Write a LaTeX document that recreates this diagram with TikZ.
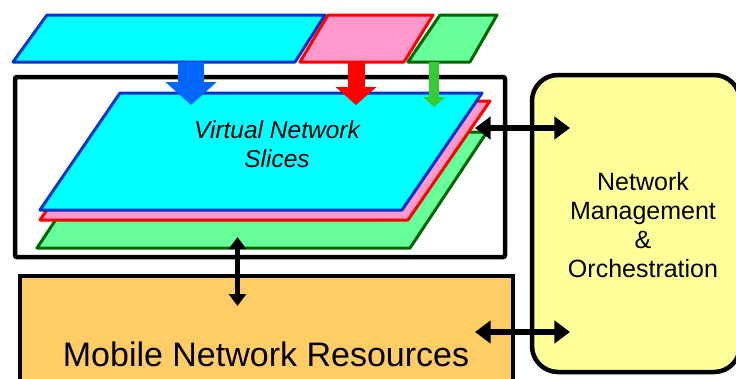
\documentclass[tikz,border=0pt]{standalone}
\usepackage{fontspec}
\setmainfont{Liberation Sans}
\usetikzlibrary{arrows.meta}

\definecolor{slicecyan}{HTML}{00FFFF}
\definecolor{sliceblue}{HTML}{0033CC}
\definecolor{slicepink}{HTML}{FF99CC}
\definecolor{slicered}{HTML}{FF0000}
\definecolor{slicegreen}{HTML}{66FF99}
\definecolor{slicedkgreen}{HTML}{006600}
\definecolor{arrowblue}{HTML}{0066FF}
\definecolor{arrowgreen}{HTML}{33CC33}
\definecolor{mgmtyellow}{HTML}{FFFF99}
\definecolor{resorange}{HTML}{FFCC66}

\tikzset{
  slicecy/.style={fill=slicecyan, draw=sliceblue, line width=3pt, line join=round},
  slicepk/.style={fill=slicepink, draw=slicered, line width=3pt, line join=round},
  slicegr/.style={fill=slicegreen, draw=slicedkgreen, line width=3pt, line join=round},
  boxline/.style={draw=black, line width=4.5pt},
  bidir/.style={line width=#1, {Triangle[width=3.4*#1, length=2.4*#1]}-{Triangle[width=3.4*#1, length=2.4*#1]}},
  mapblue/.style={draw=arrowblue, line width=26pt, -{Triangle[width=50pt, length=23pt]}},
  mapred/.style={draw=slicered, line width=17pt, -{Triangle[width=40pt, length=18pt]}},
  mapgreen/.style={draw=arrowgreen, line width=10pt, -{Triangle[width=22pt, length=10pt]}},
}

\begin{document}
\begin{tikzpicture}[x=1pt, y=-1pt]
  \useasboundingbox (0,0) rectangle (736,378);
  \clip (0,0) rectangle (736,378);

  % management & orchestration block on the right
  \draw[boxline, fill=mgmtyellow, rounded corners=26pt] (532,75) rectangle (740,372);
  \node[inner sep=0pt, align=center, font=\fontsize{25}{29}\selectfont] (mgmt) at (643,225)
    {Network\\Management\\\&\\Orchestration};

  % physical resources block at the bottom
  \draw[boxline, fill=resorange] (20,276) rectangle (513,400);
  \node[inner sep=0pt, anchor=base, font=\fontsize{34}{40}\selectfont] (res) at (266,366)
    {Mobile Network Resources};

  % frame holding the stack of virtual slices
  \draw[boxline, fill=white, rounded corners=2pt] (15,77) rectangle (505,257);

  % stacked slices
  \draw[slicegr] (114,132) -- (487,132) -- (410,248) -- (37,248) -- cycle;
  \draw[slicepk] (122,101) -- (490,101) -- (408,220) -- (40,220) -- cycle;
  \draw[slicecy] (120,93) -- (482,93) -- (402,210) -- (40,210) -- cycle;
  \node[inner sep=0pt, align=center, font=\fontsize{24.5}{29}\selectfont\itshape, anchor=base] (vns) at (277,167)
    {Virtual Network\\Slices};

  % slice requests on top
  \draw[slicecy] (47,15) -- (325,15) -- (295,62) -- (13,62) -- cycle;
  \draw[slicepk] (328,15) -- (433,15) -- (404,62) -- (300,62) -- cycle;
  \draw[slicegr] (440,15) -- (497,15) -- (470,62) -- (408,62) -- cycle;

  % mapping of the requests onto the slices
  \coordinate (bluefrom) at (191,62);
  \coordinate (blueto) at (191,105);
  \coordinate (redfrom) at (356,62);
  \coordinate (redto) at (356,105);
  \coordinate (greenfrom) at (434,62);
  \coordinate (greento) at (434,107);
  \draw[mapblue] (bluefrom) -- (blueto);
  \draw[mapred] (redfrom) -- (redto);
  \draw[mapgreen] (greenfrom) -- (greento);

  % control interfaces
  \coordinate (sliceR) at (475,128);
  \coordinate (mgmtU) at (570,128);
  \coordinate (resR) at (475,332);
  \coordinate (mgmtL) at (570,332);
  \coordinate (frameB) at (237.5,237);
  \coordinate (resT) at (237.5,306);
  \draw[bidir=6.5pt] (sliceR) -- (mgmtU);
  \draw[bidir=6.5pt] (resR) -- (mgmtL);
  \draw[bidir=5pt] (frameB) -- (resT);
\end{tikzpicture}
\end{document}
